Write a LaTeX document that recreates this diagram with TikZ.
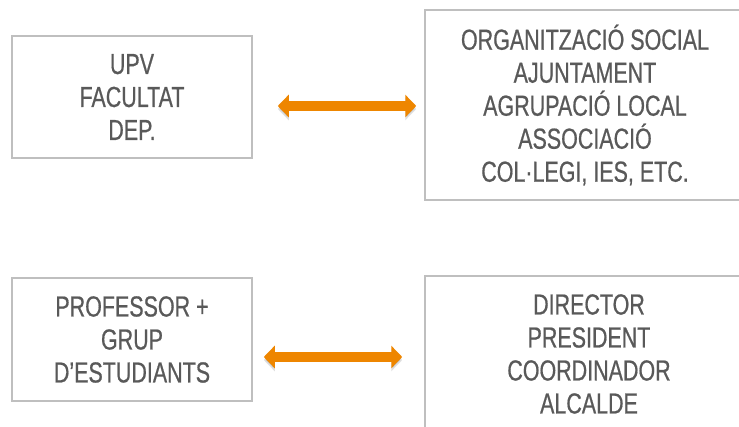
\documentclass[tikz,border=0pt]{standalone}
\usepackage{fontspec}
\setmainfont[FakeStretch=0.74,FakeBold=0.6]{Liberation Sans}
\usetikzlibrary{arrows.meta}
\definecolor{boxgray}{HTML}{BFBFBF}
\definecolor{textgray}{HTML}{595959}
\definecolor{linkorange}{HTML}{EE8600}

\begin{document}
\begin{tikzpicture}[x=1pt,y=-1pt,
    box/.style={draw=boxgray,line width=1.5pt,text=textgray,align=center,inner sep=0pt,
      font=\fontsize{29}{33}\selectfont},
    link/.style={draw=linkorange,line width=10pt,
      {Triangle[length=11pt,width=22pt]}-{Triangle[length=11pt,width=22pt]},
      preaction={draw=black,opacity=0.12,transform canvas={yshift=-3pt}}}]
          \useasboundingbox (0,0) rectangle (739,427);
          \node[box,minimum width=240pt,minimum height=122pt] (upv) at (132,97) {UPV\\FACULTAT\\DEP.};
          \node[box,minimum width=320pt,minimum height=190pt] (org) at (585,105) {ORGANITZACIÓ SOCIAL\\AJUNTAMENT\\AGRUPACIÓ LOCAL\\ASSOCIACIÓ\\COL·LEGI, IES, ETC.};
          \node[box,minimum width=240pt,minimum height=123pt] (prof) at (132,339.5) {PROFESSOR +\\GRUP\\D’ESTUDIANTS};
          \node[box,minimum width=328pt,minimum height=156pt] (dir) at (589,354) {DIRECTOR\\PRESIDENT\\COORDINADOR\\ALCALDE};
          \draw[link,shorten <=25pt,shorten >=8pt] ([yshift=-9pt]upv.east) -- ([yshift=-1pt]org.west);
          \draw[link,shorten <=11pt,shorten >=22pt] ([yshift=-17.5pt]prof.east) -- ([yshift=-3pt]dir.west);
        \end{tikzpicture}
\end{document}
